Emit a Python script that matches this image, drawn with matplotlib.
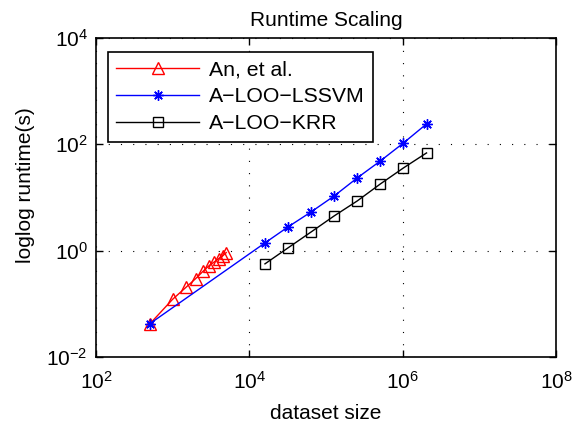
import matplotlib
matplotlib.use('Agg')
import matplotlib.pyplot as plt
from matplotlib.ticker import NullLocator

plt.rcParams['font.family'] = ['Liberation Sans', 'DejaVu Sans']
plt.rcParams['mathtext.fontset'] = 'custom'
plt.rcParams['mathtext.rm'] = 'Liberation Sans'

# data
an_size = [500, 1000, 1500, 2000, 2500, 3000, 3500, 4000, 4500, 5000]
an_time = [0.0415, 0.122, 0.206, 0.299, 0.412, 0.525, 0.616, 0.711, 0.798, 0.92]

lssvm_size = [500, 16000, 32000, 64000, 128000, 256000, 512000, 1024000, 2048000]
lssvm_time = [0.042, 1.40, 2.80, 5.36, 10.7, 23.4, 48.7, 106, 242]

krr_size = [16000, 32000, 64000, 128000, 256000, 512000, 1024000, 2048000]
krr_time = [0.565, 1.13, 2.25, 4.51, 8.63, 18.0, 36.0, 68.9]

labels = ['An, et al.', 'A\u2212LOO\u2212LSSVM', 'A\u2212LOO\u2212KRR']
xticks = [1e2, 1e4, 1e6, 1e8]
yticks = [1e-2, 1e0, 1e2, 1e4]

fig = plt.figure(figsize=(5.74, 4.28), dpi=100)
ax = fig.add_axes([96/574, 1 - 357/428, 460/574, 319/428])

ax.loglog(an_size, an_time, color='red', lw=1.0, marker='^', ms=8,
          mfc='none', mec='red', mew=1.0, label=labels[0])
ax.loglog(lssvm_size, lssvm_time, color='blue', lw=1.0, marker=(8, 2, 0), ms=7.5,
          mec='blue', mew=1.0, label=labels[1])
ax.loglog(krr_size, krr_time, color='black', lw=1.0, marker='s', ms=7,
          mfc='none', mec='black', mew=1.0, label=labels[2])

ax.set_xlim(1e2, 1e8)
ax.set_ylim(1e-2, 1e4)
ax.set_xticks(xticks)
ax.set_yticks(yticks)
ax.xaxis.set_minor_locator(NullLocator())
ax.yaxis.set_minor_locator(NullLocator())

ax.tick_params(which='both', direction='in', top=True, right=True,
               length=5, width=1.0, labelsize=15)
ax.tick_params(axis='x', pad=10)
ax.tick_params(axis='y', pad=6)
ax.grid(True, color='black', lw=0.8, linestyle=(0, (1, 10)))
for s in ax.spines.values():
    s.set_linewidth(1.2)

ax.set_title('Runtime Scaling', fontsize=15, pad=9)
ax.set_xlabel('dataset size', fontsize=15, labelpad=8)
ax.set_ylabel('loglog runtime(s)', fontsize=15)
ax.yaxis.set_label_coords(-0.133, 0.54)

leg = ax.legend(loc='upper left', bbox_to_anchor=(0.026, 0.956), borderaxespad=0,
                fontsize=15.3, handlelength=3.9, handletextpad=0.45, borderpad=0.4,
                labelspacing=0.37, fancybox=False, framealpha=1)
leg.get_frame().set_edgecolor('black')
leg.get_frame().set_linewidth(1.2)

fig.savefig('out.png', dpi=100)
